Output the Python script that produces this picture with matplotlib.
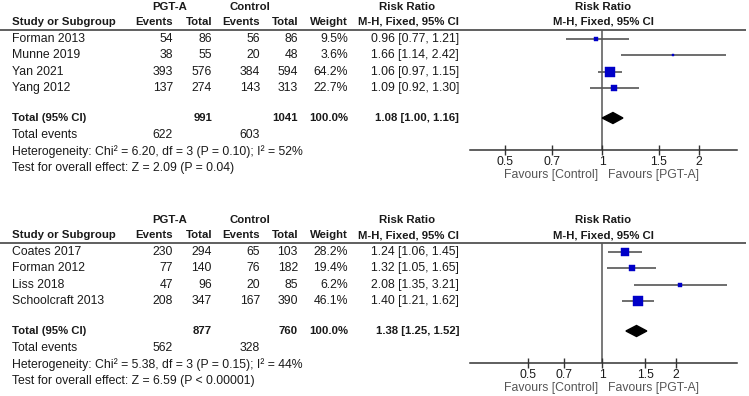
import numpy as np
import matplotlib
matplotlib.use("Agg")
import matplotlib.pyplot as plt

plt.rcParams['font.family'] = ['Liberation Sans', 'DejaVu Sans']

# top meta-analysis
top_studies = ["Forman 2013", "Munne 2019", "Yan 2021", "Yang 2012"]
top_pgta_events = [54, 38, 393, 137]
top_pgta_total = [86, 55, 576, 274]
top_ctrl_events = [56, 20, 384, 143]
top_ctrl_total = [86, 48, 594, 313]
top_weight = [9.5, 3.6, 64.2, 22.7]
top_rr = [0.96, 1.66, 1.06, 1.09]
top_lo = [0.77, 1.14, 0.97, 0.92]
top_hi = [1.21, 2.42, 1.15, 1.30]
top_pooled = [1.08, 1.00, 1.16]
top_sums = [622, 991, 603, 1041]
top_het = "Heterogeneity: Chi² = 6.20, df = 3 (P = 0.10); I² = 52%"
top_test = "Test for overall effect: Z = 2.09 (P = 0.04)"
top_xlim = (0.389, 2.62)

# bottom meta-analysis
bot_studies = ["Coates 2017", "Forman 2012", "Liss 2018", "Schoolcraft 2013"]
bot_pgta_events = [230, 77, 47, 208]
bot_pgta_total = [294, 140, 96, 347]
bot_ctrl_events = [65, 76, 20, 167]
bot_ctrl_total = [103, 182, 85, 390]
bot_weight = [28.2, 19.4, 6.2, 46.1]
bot_rr = [1.24, 1.32, 2.08, 1.40]
bot_lo = [1.06, 1.05, 1.35, 1.21]
bot_hi = [1.45, 1.65, 3.21, 1.62]
bot_pooled = [1.38, 1.25, 1.52]
bot_sums = [562, 877, 328, 760]
bot_het = "Heterogeneity: Chi² = 5.38, df = 3 (P = 0.15); I² = 44%"
bot_test = "Test for overall effect: Z = 6.59 (P < 0.00001)"
bot_xlim = (0.291, 3.53)

ticks = [0.5, 0.7, 1, 1.5, 2]
tick_labels = ["0.5", "0.7", "1", "1.5", "2"]

W, H = 749, 396
fig = plt.figure(figsize=(W / 100, H / 100), dpi=100)
ax = fig.add_axes([0, 0, 1, 1])
ax.set_xlim(0, W)
ax.set_ylim(H, 0)
ax.axis('off')

FS = 8.8
FSB = 8.2
TXT = '#1a1a1a'
GREY = '#555555'


def draw_panel(y0, studies, pe, pt, ce, ct, weight, rr, lo, hi, pooled, sums, het, test, xlim):
  # headers
  ax.text(170, y0 - 23, "PGT-A", ha='center', va='center', fontsize=FSB, fontweight='bold', color=TXT)
  ax.text(250, y0 - 23, "Control", ha='center', va='center', fontsize=FSB, fontweight='bold', color=TXT)
  ax.text(407, y0 - 23, "Risk Ratio", ha='center', va='center', fontsize=FSB, fontweight='bold', color=TXT)
  ax.text(603, y0 - 23, "Risk Ratio", ha='center', va='center', fontsize=FSB, fontweight='bold', color=TXT)
  row2 = [(12, "Study or Subgroup", 'left'), (173, "Events", 'right'), (212, "Total", 'right'),
          (260, "Events", 'right'), (298, "Total", 'right'), (348, "Weight", 'right'),
          (459, "M-H, Fixed, 95% CI", 'right'), (603, "M-H, Fixed, 95% CI", 'center')]
  for x, s, ha in row2:
    ax.text(x, y0 - 8, s, ha=ha, va='center', fontsize=FSB, fontweight='bold', color=TXT)
  ax.plot([0, 746], [y0, y0], color='#444444', lw=1.2, solid_capstyle='butt')

  rows = [y0 + 9 + 16.3 * i for i in range(len(studies))]
  for i, y in enumerate(rows):
    ax.text(12, y, studies[i], ha='left', va='center', fontsize=FS, color=TXT)
    ax.text(173, y, str(pe[i]), ha='right', va='center', fontsize=FS, color=TXT)
    ax.text(212, y, str(pt[i]), ha='right', va='center', fontsize=FS, color=TXT)
    ax.text(260, y, str(ce[i]), ha='right', va='center', fontsize=FS, color=TXT)
    ax.text(298, y, str(ct[i]), ha='right', va='center', fontsize=FS, color=TXT)
    ax.text(348, y, f"{weight[i]:.1f}%", ha='right', va='center', fontsize=FS, color=TXT)
    ax.text(459, y, f"{rr[i]:.2f} [{lo[i]:.2f}, {hi[i]:.2f}]", ha='right', va='center', fontsize=FS, color=TXT)

  yt = y0 + 88
  ax.text(12, yt, "Total (95% CI)", ha='left', va='center', fontsize=FSB, fontweight='bold', color=TXT)
  ax.text(212, yt, str(sums[1]), ha='right', va='center', fontsize=FSB, fontweight='bold', color=TXT)
  ax.text(298, yt, str(sums[3]), ha='right', va='center', fontsize=FSB, fontweight='bold', color=TXT)
  ax.text(348, yt, "100.0%", ha='right', va='center', fontsize=FSB, fontweight='bold', color=TXT)
  ax.text(459, yt, f"{pooled[0]:.2f} [{pooled[1]:.2f}, {pooled[2]:.2f}]", ha='right', va='center',
          fontsize=FSB, fontweight='bold', color=TXT)
  ax.text(12, yt + 17, "Total events", ha='left', va='center', fontsize=FS, color=TXT)
  ax.text(173, yt + 17, str(sums[0]), ha='right', va='center', fontsize=FS, color=TXT)
  ax.text(260, yt + 17, str(sums[2]), ha='right', va='center', fontsize=FS, color=TXT)
  ax.text(12, yt + 33.5, het, ha='left', va='center', fontsize=FS, color=TXT)
  ax.text(12, yt + 50, test, ha='left', va='center', fontsize=FS, color=TXT)

  # forest plot
  x0, x1 = 470, 737
  y_axis = y0 + 120
  fa = fig.add_axes([x0 / W, 1 - y_axis / H, (x1 - x0) / W, (y_axis - y0) / H])
  fa.patch.set_visible(False)
  fa.set_xscale('log')
  fa.set_xlim(*xlim)
  fa.set_ylim(y_axis, y0)
  for s in ['top', 'left', 'right']:
    fa.spines[s].set_visible(False)
  fa.spines['bottom'].set_color('#333333')
  fa.spines['bottom'].set_linewidth(1.1)
  fa.set_yticks([])
  fa.set_xticks(ticks)
  fa.set_xticklabels(tick_labels)
  fa.xaxis.set_minor_locator(matplotlib.ticker.NullLocator())
  fa.tick_params(axis='x', direction='inout', length=7, width=1.0, color='#333333',
                 labelsize=FS, labelcolor=TXT, pad=0.5)
  fa.axvline(1, color=GREY, lw=1.1, zorder=1)
  fa.hlines(rows, lo, hi, color=GREY, lw=1.2, zorder=2)
  for i, y in enumerate(rows):
    fa.plot(rr[i], y, marker='s', ms=0.97 * np.sqrt(weight[i]), color='#0000c8', mec='#0000c8', mew=0.3, zorder=3)
  fa.fill([pooled[1], pooled[0], pooled[2], pooled[0]], [yt, yt - 5.5, yt, yt + 5.5], color='black', zorder=3)

  ax.text(598, y0 + 145, "Favours [Control]", ha='right', va='center', fontsize=FS, color=GREY)
  ax.text(608, y0 + 145, "Favours [PGT-A]", ha='left', va='center', fontsize=FS, color=GREY)


draw_panel(30, top_studies, top_pgta_events, top_pgta_total, top_ctrl_events, top_ctrl_total,
           top_weight, top_rr, top_lo, top_hi, top_pooled, top_sums, top_het, top_test, top_xlim)
draw_panel(243, bot_studies, bot_pgta_events, bot_pgta_total, bot_ctrl_events, bot_ctrl_total,
           bot_weight, bot_rr, bot_lo, bot_hi, bot_pooled, bot_sums, bot_het, bot_test, bot_xlim)

fig.savefig("out.png", dpi=100)
